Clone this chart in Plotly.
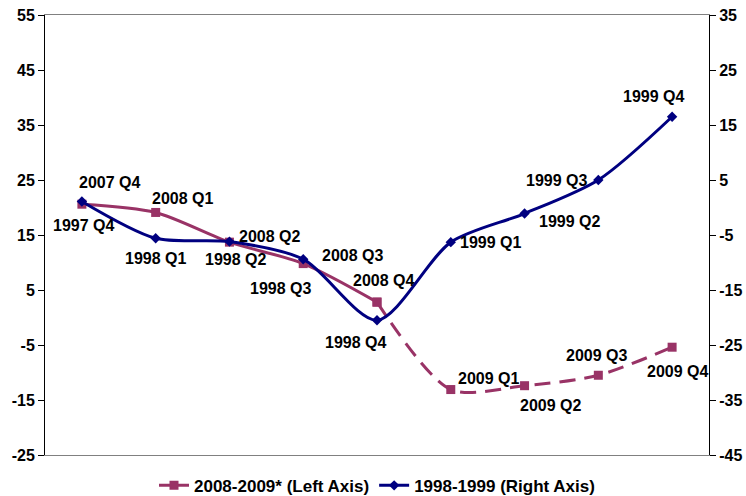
import plotly.graph_objects as go

quarters = list(range(9))
labels_0809 = ["2007 Q4", "2008 Q1", "2008 Q2", "2008 Q3", "2008 Q4",
               "2009 Q1", "2009 Q2", "2009 Q3", "2009 Q4"]
values_0809 = [20.6, 19.1, 13.7, 9.8, 2.8, -13.1, -12.4, -10.5, -5.4]
labels_9899 = ["1997 Q4", "1998 Q1", "1998 Q2", "1998 Q3", "1998 Q4",
               "1999 Q1", "1999 Q2", "1999 Q3", "1999 Q4"]
values_9899 = [1.1, -5.6, -6.2, -9.4, -20.5, -6.3, -1.1, 5.0, 16.5]
left_ticks = [-25, -15, -5, 5, 15, 25, 35, 45, 55]
right_ticks = [-45, -35, -25, -15, -5, 5, 15, 25, 35]

# label offsets in pixels (dx, dy downwards)
off_0809 = [(28, -22), (27, -14), (40, -6), (49, -8), (6, -22),
            (38, -11), (26, 20), (-2, -20), (5, 24)]
off_9899 = [(2, 24), (0, 20), (6, 18), (-23, 29), (-22, 22),
            (40, 0), (45, 8), (-42, 0), (-19, -20)]

MAROON = "#993366"
NAVY = "#000080"
FONT = "Liberation Sans"

fig = go.Figure()
fig.add_trace(go.Scatter(
    x=quarters[:5], y=values_0809[:5], mode="lines+markers",
    name="2008-2009* (Left Axis)",
    line=dict(color=MAROON, width=3, shape="spline", smoothing=0.8),
    marker=dict(symbol="square", size=9, color=MAROON),
    yaxis="y"))
fig.add_trace(go.Scatter(
    x=quarters[4:], y=values_0809[4:], mode="lines+markers",
    showlegend=False,
    line=dict(color=MAROON, width=3, shape="spline", smoothing=0.8, dash="16px,9px"),
    marker=dict(symbol="square", size=9, color=MAROON),
    yaxis="y"))
fig.add_trace(go.Scatter(
    x=quarters, y=values_9899, mode="lines+markers",
    name="1998-1999 (Right Axis)",
    line=dict(color=NAVY, width=3, shape="spline", smoothing=0.8),
    marker=dict(symbol="diamond", size=8, color=NAVY),
    yaxis="y2"))

annotations = []
for q, v, t, (dx, dy) in zip(quarters, values_0809, labels_0809, off_0809):
    annotations.append(dict(x=q, y=v, xref="x", yref="y", text=t, showarrow=False,
                            xshift=dx, yshift=-dy,
                            font=dict(family=FONT, size=16, color="black", weight="bold")))
for q, v, t, (dx, dy) in zip(quarters, values_9899, labels_9899, off_9899):
    annotations.append(dict(x=q, y=v, xref="x", yref="y2", text=t, showarrow=False,
                            xshift=dx, yshift=-dy,
                            font=dict(family=FONT, size=16, color="black", weight="bold")))

fig.update_layout(
    width=746, height=496,
    margin=dict(l=45, r=37, t=15, b=41, autoexpand=False),
    paper_bgcolor="white", plot_bgcolor="white",
    font=dict(family=FONT, size=16, color="black", weight="bold"),
    xaxis=dict(range=[-0.5, 8.5], showticklabels=False, ticks="", showgrid=False,
               zeroline=False, showline=True, linecolor="#808080", linewidth=1, mirror=True),
    yaxis=dict(range=[-25, 55], tickvals=left_ticks, ticktext=[str(t) for t in left_ticks],
               ticks="outside", ticklen=6, automargin=False,
               tickcolor="black", showgrid=False, zeroline=False, showline=True,
               linecolor="black", linewidth=1,
               tickfont=dict(family=FONT, size=16, weight="bold")),
    yaxis2=dict(range=[-45, 35], tickvals=right_ticks, ticktext=[str(t) for t in right_ticks],
                ticks="outside", ticklen=6, automargin=False,
                tickcolor="black", showgrid=False, zeroline=False, showline=True,
                linecolor="black", linewidth=1, overlaying="y", side="right",
                tickfont=dict(family=FONT, size=16, weight="bold")),
    legend=dict(orientation="h", x=0.5, xanchor="center", y=-0.07, yanchor="middle",
                font=dict(family=FONT, size=17, weight="bold"), bgcolor="rgba(0,0,0,0)",
                traceorder="normal", itemwidth=30),
    annotations=annotations,
    showlegend=True,
)

fig.write_html("out.html", config={"displayModeBar": False},
               post_script="document.body.style.margin='0';document.body.style.padding='0';")
